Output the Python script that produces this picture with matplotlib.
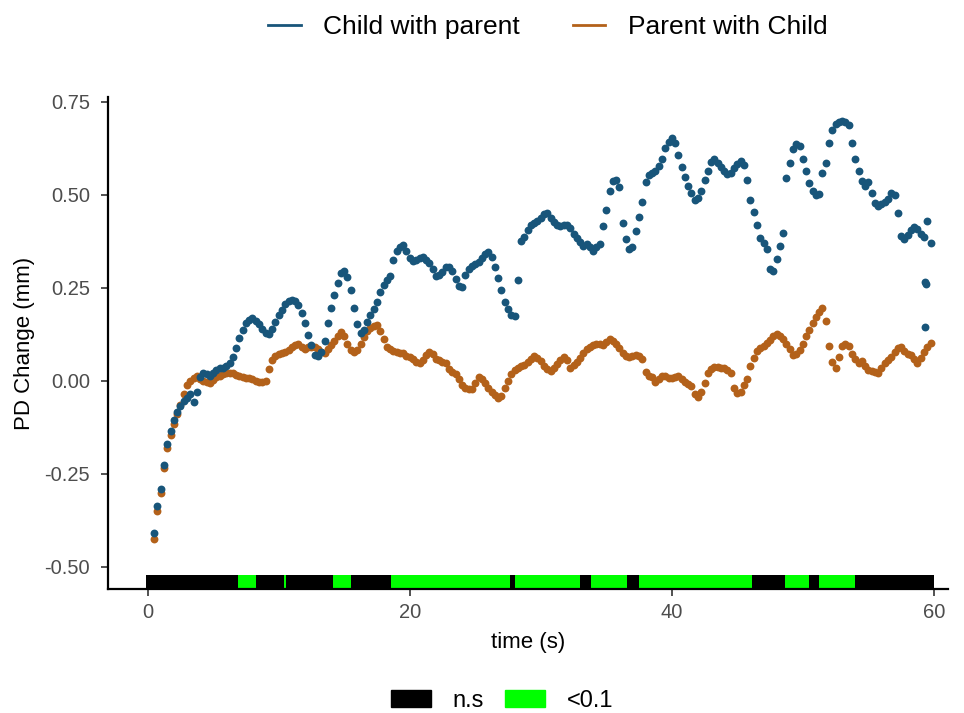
import numpy as np
import matplotlib.pyplot as plt
from matplotlib.lines import Line2D
from matplotlib.patches import Patch

plt.rcParams['font.family'] = ['Liberation Sans', 'DejaVu Sans']

# sampling times (s) for both pupil traces
time = np.arange(0.5, 59.76, 0.25)

child_pd = [
    -0.41, -0.335, -0.29, -0.225, -0.17, -0.135, -0.105, -0.083, -0.067, -0.055,
    -0.045, -0.035, -0.058, -0.03, 0.01, 0.022, 0.018, 0.012, 0.02, 0.028,
    0.034, 0.036, 0.04, 0.048, 0.063, 0.088, 0.115, 0.138, 0.155, 0.165,
    0.168, 0.162, 0.152, 0.14, 0.128, 0.126, 0.14, 0.158, 0.177, 0.19,
    0.208, 0.215, 0.218, 0.215, 0.203, 0.183, 0.155, 0.123, 0.097, 0.07,
    0.068, 0.078, 0.108, 0.155, 0.195, 0.23, 0.262, 0.29, 0.295, 0.28,
    0.245, 0.195, 0.152, 0.128, 0.137, 0.158, 0.176, 0.193, 0.212, 0.238,
    0.257, 0.27, 0.283, 0.325, 0.35, 0.36, 0.366, 0.35, 0.33, 0.322,
    0.324, 0.33, 0.334, 0.326, 0.317, 0.3, 0.282, 0.285, 0.293, 0.305,
    0.305, 0.296, 0.275, 0.255, 0.252, 0.284, 0.302, 0.31, 0.314, 0.32,
    0.33, 0.34, 0.347, 0.333, 0.305, 0.276, 0.245, 0.213, 0.193, 0.178,
    0.174, 0.272, 0.375, 0.387, 0.405, 0.418, 0.425, 0.43, 0.438, 0.448,
    0.452, 0.438, 0.428, 0.42, 0.415, 0.418, 0.42, 0.41, 0.395, 0.383,
    0.372, 0.362, 0.368, 0.36, 0.35, 0.36, 0.368, 0.415, 0.458, 0.51,
    0.537, 0.54, 0.52, 0.425, 0.38, 0.355, 0.36, 0.403, 0.44, 0.48,
    0.535, 0.553, 0.56, 0.565, 0.578, 0.595, 0.625, 0.643, 0.652, 0.638,
    0.607, 0.576, 0.547, 0.523, 0.505, 0.487, 0.492, 0.51, 0.54, 0.563,
    0.588, 0.597, 0.586, 0.574, 0.565, 0.557, 0.558, 0.572, 0.583, 0.592,
    0.58, 0.54, 0.487, 0.455, 0.42, 0.385, 0.37, 0.355, 0.3, 0.295,
    0.328, 0.363, 0.398, 0.545, 0.585, 0.622, 0.637, 0.63, 0.596, 0.565,
    0.533, 0.51, 0.5, 0.502, 0.56, 0.585, 0.64, 0.675, 0.69, 0.697,
    0.698, 0.696, 0.688, 0.64, 0.595, 0.565, 0.537, 0.525, 0.535, 0.505,
    0.477, 0.47, 0.475, 0.482, 0.49, 0.505, 0.5, 0.45, 0.39, 0.38,
    0.392, 0.405, 0.414, 0.408, 0.396, 0.388, 0.43, 0.37,
]

# a few stray samples at the end of the child trace
child_tail_t = [59.3, 59.4, 59.3]
child_tail_pd = [0.267, 0.26, 0.146]

parent_pd = [
    -0.425, -0.35, -0.3, -0.235, -0.18, -0.145, -0.115, -0.09, -0.065, -0.035,
    -0.012, 0.0, 0.008, 0.012, 0.005, 0.0, -0.003, -0.005, 0.002, 0.01,
    0.013, 0.018, 0.02, 0.022, 0.02, 0.015, 0.012, 0.01, 0.008, 0.007,
    0.004, 0.0, -0.004, -0.003, 0.0, 0.033, 0.055, 0.066, 0.072, 0.076,
    0.078, 0.083, 0.09, 0.096, 0.1, 0.092, 0.087, 0.09, 0.092, 0.09,
    0.085, 0.078, 0.075, 0.085, 0.097, 0.108, 0.12, 0.132, 0.12, 0.1,
    0.082, 0.078, 0.082, 0.1, 0.118, 0.133, 0.142, 0.148, 0.15, 0.135,
    0.112, 0.092, 0.085, 0.08, 0.078, 0.076, 0.074, 0.068, 0.064, 0.059,
    0.052, 0.047, 0.057, 0.07, 0.078, 0.072, 0.06, 0.055, 0.05, 0.047,
    0.033, 0.025, 0.018, 0.005, -0.012, -0.018, -0.022, -0.022, -0.005, 0.01,
    0.005, -0.006, -0.018, -0.03, -0.038, -0.045, -0.04, -0.02, 0.0, 0.018,
    0.03, 0.036, 0.04, 0.043, 0.05, 0.06, 0.068, 0.062, 0.053, 0.04,
    0.032, 0.026, 0.035, 0.045, 0.055, 0.064, 0.055, 0.036, 0.042, 0.05,
    0.062, 0.074, 0.085, 0.092, 0.097, 0.1, 0.1, 0.097, 0.105, 0.113,
    0.108, 0.1, 0.088, 0.075, 0.068, 0.065, 0.066, 0.069, 0.068, 0.058,
    0.025, 0.012, 0.01, -0.004, 0.005, 0.014, 0.012, 0.008, 0.009, 0.011,
    0.012, 0.006, -0.002, -0.008, -0.015, -0.035, -0.043, -0.03, -0.006, 0.02,
    0.032, 0.037, 0.037, 0.035, 0.034, 0.03, 0.022, -0.02, -0.032, -0.03,
    -0.01, 0.005, 0.04, 0.062, 0.08, 0.088, 0.095, 0.102, 0.11, 0.12,
    0.127, 0.122, 0.113, 0.1, 0.085, 0.07, 0.072, 0.082, 0.1, 0.12,
    0.136, 0.155, 0.172, 0.186, 0.195, 0.16, 0.095, 0.052, 0.035, 0.065,
    0.095, 0.1, 0.095, 0.072, 0.058, 0.047, 0.054, 0.04, 0.03, 0.026,
    0.024, 0.021, 0.036, 0.048, 0.055, 0.063, 0.078, 0.088, 0.092, 0.08,
    0.073, 0.07, 0.058, 0.048, 0.062, 0.078, 0.092, 0.102,
]

# significance strip along the bottom: segment edges and p-value class
sig_edges = [-0.15, 6.88, 8.26, 10.4, 10.55, 14.15, 15.48, 18.58, 27.67, 28.06,
             32.96, 33.87, 36.57, 37.49, 46.14, 48.66, 50.44, 51.25, 53.95, 60.0]
sig_class = ['n.s', '<0.1', 'n.s', '<0.1', 'n.s', '<0.1', 'n.s', '<0.1', 'n.s', '<0.1',
             'n.s', '<0.1', 'n.s', '<0.1', 'n.s', '<0.1', 'n.s', '<0.1', 'n.s']

blue = '#18557A'
orange = '#B3611A'
sig_colors = {'n.s': '#000000', '<0.1': '#00FF00'}
dot = 32

fig = plt.figure(figsize=(9.64, 7.13), dpi=100)
ax = fig.add_axes([0.112, 0.174, 0.871, 0.690])

ax.scatter(time, parent_pd, s=dot, color=orange, linewidths=0, zorder=2)
ax.scatter(time, child_pd, s=dot, color=blue, linewidths=0, zorder=3)
ax.scatter(child_tail_t, child_tail_pd, s=dot, color=blue, linewidths=0, zorder=3)

bar_lo, bar_hi = -0.559, -0.5215
for i, cls in enumerate(sig_class):
    ax.broken_barh([(sig_edges[i], sig_edges[i + 1] - sig_edges[i])],
                   (bar_lo, bar_hi - bar_lo), facecolors=sig_colors[cls],
                   edgecolor='none', zorder=1)

ax.set_xlim(-3.03, 61.05)
ax.set_ylim(-0.559, 0.763)
ax.set_xticks([0, 20, 40, 60])
ax.set_yticks([-0.5, -0.25, 0, 0.25, 0.5, 0.75])
ax.set_yticklabels(['-0.50', '-0.25', '0.00', '0.25', '0.50', '0.75'])
ax.tick_params(labelsize=14.5, labelcolor='#4D4D4D', color='#333333',
               length=5, width=1.2)
ax.tick_params(axis='y', pad=8)
ax.tick_params(axis='x', pad=5)
for side in ['top', 'right']:
    ax.spines[side].set_visible(False)
for side in ['left', 'bottom']:
    ax.spines[side].set_linewidth(1.6)
ax.set_xlabel('time (s)', fontsize=16, labelpad=7)
ax.set_ylabel('PD Change (mm)', fontsize=16, labelpad=7)

top_handles = [Line2D([], [], color=blue, lw=2),
               Line2D([], [], color=orange, lw=2)]
fig.legend(top_handles, ['Child with parent', 'Parent with Child'],
           loc='center', bbox_to_anchor=(0.568, 0.962), ncol=2, frameon=False,
           fontsize=19, handlelength=1.25, handletextpad=0.85,
           columnspacing=2.0)

bottom_handles = [Patch(color=sig_colors['n.s']), Patch(color=sig_colors['<0.1'])]
fig.legend(bottom_handles, ['n.s', '<0.1'], loc='center',
           bbox_to_anchor=(0.521, 0.017), ncol=2, frameon=False, fontsize=17,
           handlelength=1.7, handleheight=0.7, handletextpad=0.9,
           columnspacing=0.9, borderpad=0.1)

fig.savefig('out.png', dpi=100)
